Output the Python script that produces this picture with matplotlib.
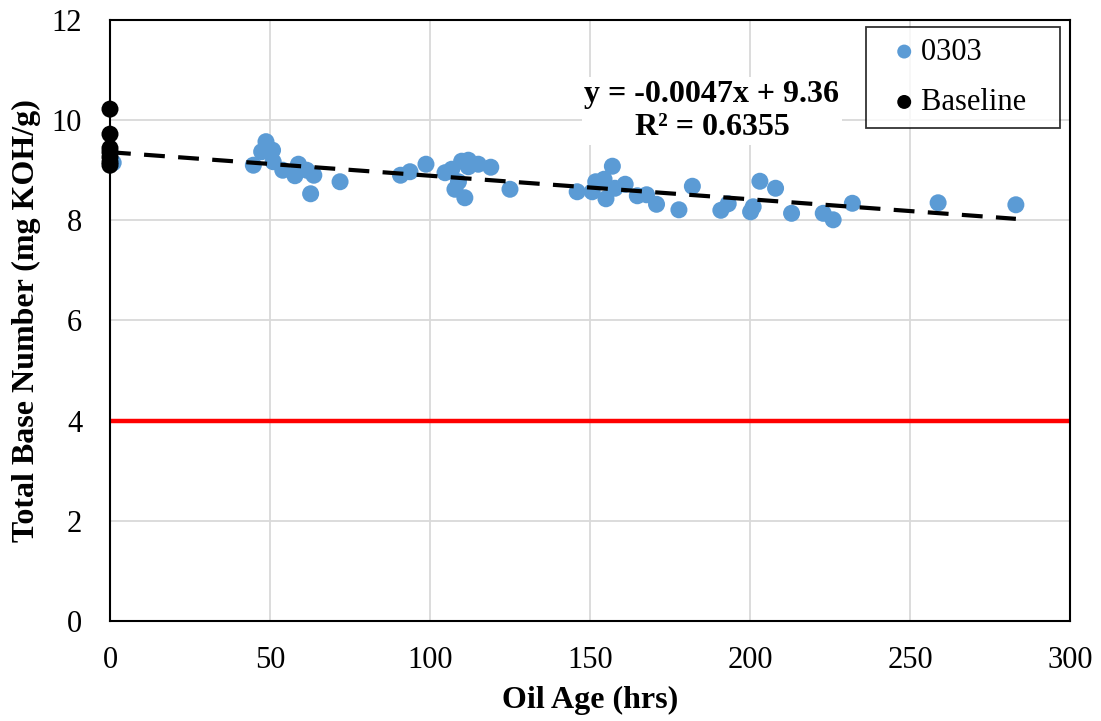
import numpy as np
import matplotlib
matplotlib.use("Agg")
import matplotlib.pyplot as plt

plt.rcParams.update({
    "font.family": ["Liberation Serif", "DejaVu Serif"],
    "font.size": 22,
})

# 0303 samples: oil age (hrs) vs TBN
age_0303 = [1, 44.8, 47.4, 48.75, 50.8, 51, 54, 57.8, 58.9, 61.5, 62.7, 63.7, 71.9,
            90.8, 93.75, 98.75, 104.7, 106.8, 107.8, 108.9, 109.9, 110.9, 112, 112,
            115.1, 119, 125, 146, 150.7, 151.8, 154.4, 155, 157, 157.8, 161, 164.8,
            167.7, 170.8, 177.8, 182, 190.9, 193.2, 200.2, 201, 203.1, 208, 213,
            222.9, 226, 232, 258.8, 283.1]
tbn_0303 = [9.15, 9.10, 9.37, 9.57, 9.40, 9.17, 9.00, 8.89, 9.12, 9.00, 8.53, 8.90, 8.77,
            8.90, 8.97, 9.12, 8.95, 9.02, 8.62, 8.77, 9.18, 8.45, 9.20, 9.07,
            9.12, 9.06, 8.62, 8.57, 8.57, 8.77, 8.82, 8.43, 9.08, 8.64, 8.72, 8.49,
            8.51, 8.32, 8.21, 8.68, 8.20, 8.33, 8.17, 8.27, 8.78, 8.64, 8.14,
            8.14, 8.01, 8.34, 8.35, 8.31]

# baseline samples at zero hours
age_base = [0, 0, 0, 0, 0, 0, 0]
tbn_base = [10.22, 9.72, 9.44, 9.36, 9.26, 9.16, 9.10]

slope, intercept = -0.0047, 9.36
limit_tbn = 4

fig = plt.figure(figsize=(11.01, 7.21), dpi=100)
ax = fig.add_axes([0.0999, 0.1387, 0.8719, 0.8336])

ax.grid(True, color="#d9d9d9", lw=1.3, zorder=0)
ax.set_axisbelow(True)

ax.axhline(limit_tbn, color="#ff0000", lw=3.2, zorder=2)

ax.scatter(age_0303, tbn_0303, s=150, color="#5b9bd5", label="0303   ", zorder=3,
           edgecolors="none")
ax.scatter(age_base, tbn_base, s=150, color="black", label="Baseline   ", zorder=4,
           edgecolors="none", clip_on=False)

xs = np.array([0, max(age_0303)])
ax.plot(xs, slope * xs + intercept, color="black", lw=3, ls=(0, (5, 3.2)), zorder=5)

fig.text(712 / 1101, 1 - 111 / 721, "y = -0.0047x + 9.36\nR² = 0.6355", ha="center",
         va="center", fontsize=23, fontweight="bold", linespacing=1.2,
         bbox=dict(facecolor="white", edgecolor="none", pad=2), zorder=6)

ax.set_xlim(0, 300)
ax.set_ylim(0, 12)
ax.set_xticks(range(0, 301, 50))
ax.set_yticks(range(0, 13, 2))
ax.tick_params(length=0, labelsize=22)
ax.tick_params(axis="x", pad=18)
ax.tick_params(axis="y", pad=20)
for s in ax.spines.values():
    s.set_linewidth(1.5)
    s.set_color("black")

ax.set_xlabel("Oil Age (hrs)", fontweight="bold", fontsize=23, labelpad=8)
ax.set_ylabel("Total Base Number (mg KOH/g)", fontweight="bold", fontsize=23, labelpad=8)

leg = ax.legend(loc="upper right", bbox_to_anchor=(0.9895, 0.9885), fontsize=22,
                frameon=True, fancybox=False, edgecolor="black", handletextpad=-0.36,
                markerscale=0.82, borderpad=0.35, labelspacing=0.7, handlelength=1.83,
                borderaxespad=0)
leg.get_frame().set_linewidth(1.3)

fig.savefig("out.png", dpi=100)
